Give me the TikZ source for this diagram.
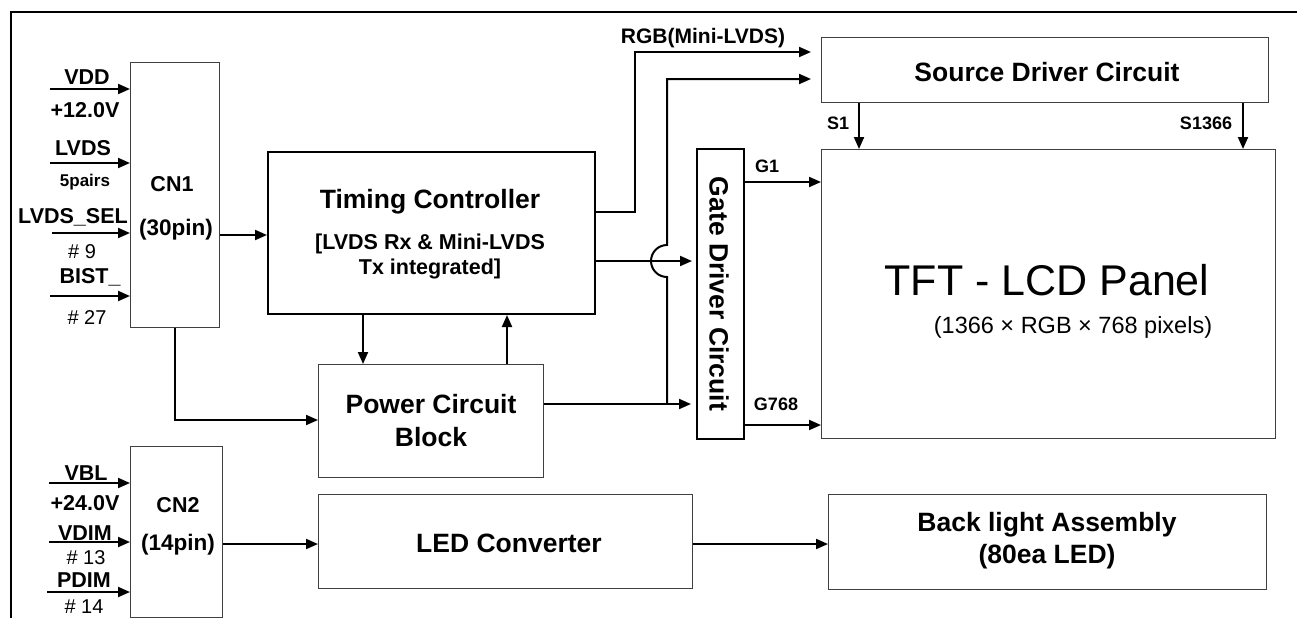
\documentclass[tikz,border=0pt]{standalone}
\usepackage{fontspec}
\setmainfont{Liberation Sans}
\usetikzlibrary{arrows.meta}
\begin{document}
\begin{tikzpicture}[x=1pt,y=-1pt,
  thinbox/.style={draw=black!75, line width=1.2pt, fill=white, inner sep=0pt, anchor=north west},
  thickbox/.style={draw=black, line width=2pt, fill=white, inner sep=0pt, anchor=north west},
  conn/.style={line width=2pt},
  arr/.style={conn, -{Triangle[length=12pt,width=10pt]}},
  lab/.style={inner sep=0pt, font=\bfseries\fontsize{21.5}{24}\selectfont},
  pin/.style={inner sep=0pt, font=\fontsize{20}{22}\selectfont},
  sig/.style={inner sep=0pt, font=\bfseries\fontsize{18}{20}\selectfont},
  big/.style={inner sep=0pt, font=\bfseries\fontsize{26.5}{33}\selectfont, align=center},
  mid/.style={inner sep=0pt, font=\bfseries\fontsize{21.5}{25}\selectfont, align=center}]
\useasboundingbox (0,0) rectangle (1297,618);
% frame
\coordinate (fTL) at (11,12); \coordinate (fTR) at (1297,12); \coordinate (fBL) at (11,618);
\draw[line width=2pt] (fTR) -- (fTL) -- (fBL);

% boxes
\node[thinbox, minimum width=89pt, minimum height=265pt] (cn1) at (130,62) {};
\node[thinbox, minimum width=92pt, minimum height=171pt] (cn2) at (130,446) {};
\node[thickbox, minimum width=327pt, minimum height=162pt] (tc) at (267,151) {};
\node[thinbox, minimum width=225pt, minimum height=113pt] (pwr) at (318,364) {};
\node[thinbox, minimum width=374pt, minimum height=94pt] (led) at (318,494) {};
\node[thinbox, minimum width=438pt, minimum height=95pt] (bl) at (828,494) {};
\node[thinbox, minimum width=447pt, minimum height=65pt] (src) at (821,37) {};
\node[thinbox, minimum width=454pt, minimum height=289pt] (tft) at (821,149) {};
\node[thickbox, minimum width=47pt, minimum height=290pt] (gate) at (696,148) {};

% input arrows CN1
\coordinate (iVDD) at (50,89);  \draw[arr] (iVDD) -- (iVDD -| cn1.west);
\coordinate (iLVDS) at (50,163); \draw[arr] (iLVDS) -- (iLVDS -| cn1.west);
\coordinate (iSEL) at (52,233); \draw[arr] (iSEL) -- (iSEL -| cn1.west);
\coordinate (iBIST) at (50,296); \draw[arr] (iBIST) -- (iBIST -| cn1.west);
% input arrows CN2
\coordinate (iVBL) at (49,483); \draw[arr] (iVBL) -- (iVBL -| cn2.west);
\coordinate (iVDIM) at (49,542); \draw[arr] (iVDIM) -- (iVDIM -| cn2.west);
\coordinate (iPDIM) at (47,592); \draw[arr] (iPDIM) -- (iPDIM -| cn2.west);

% CN1 -> TC
\coordinate (y235) at (0,235);
\draw[arr] (cn1.east |- y235) -- (tc.west |- y235);
% CN1 -> Power
\coordinate (cpw) at (175,420);
\draw[arr] (cn1.south -| cpw) -- (cpw) -- (cpw -| pwr.west);
% TC <-> Power
\coordinate (xd) at (363,0); \draw[arr] (tc.south -| xd) -- (pwr.north -| xd);
\coordinate (xu) at (507,0); \draw[arr] (pwr.north -| xu) -- (tc.south -| xu);
% RGB
\coordinate (rgbA) at (635,212); \coordinate (rgbB) at (635,52);
\draw[arr, shorten >=10pt] (tc.east |- rgbA) -- (rgbA) -- (rgbB) -- (rgbB -| src.west);
% TC -> gate
\coordinate (y261) at (0,261);
\draw[arr, shorten >=4pt] (tc.east |- y261) -- (gate.west |- y261);
% Power -> gate
\coordinate (jn) at (667,404);
\draw[arr, shorten >=5pt] (pwr.east |- jn) -- (gate.west |- jn);
% Power -> source (with jump)
\coordinate (jlow) at (667,277); \coordinate (jtop) at (667,79);
\draw[arr, shorten >=10pt] (jn) -- (jlow) arc[start angle=270, end angle=90, radius=16pt] -- (jtop) -- (jtop -| src.west);
% gate -> TFT
\coordinate (yG1) at (0,182); \draw[arr] (gate.east |- yG1) -- (tft.west |- yG1);
\coordinate (yG2) at (0,425); \draw[arr] (gate.east |- yG2) -- (tft.west |- yG2);
% source -> TFT
\coordinate (xS1) at (859,0); \draw[arr] (src.south -| xS1) -- (tft.north -| xS1);
\coordinate (xS2) at (1243,0); \draw[arr] (src.south -| xS2) -- (tft.north -| xS2);
% CN2 -> LED -> BL
\coordinate (y544) at (0,544);
\draw[arr] (cn2.east |- y544) -- (led.west |- y544);
\draw[arr] (led.east |- y544) -- (bl.west |- y544);

% labels CN1 inputs
\node[lab] (tVDD) at (87,77) {VDD};
\node[lab] (tV12) at (85,110) {+12.0V};
\node[lab] (tLVDS) at (83,148) {LVDS};
\node[inner sep=0pt, font=\bfseries\fontsize{17}{19}\selectfont] (t5p) at (85,182) {5pairs};
\node[lab] (tSEL) at (73,217) {LVDS\_SEL};
\node[pin] (t9) at (82,252) {\# 9};
\node[lab] (tBIST) at (90,277) {BIST\_};
\node[pin] (t27) at (87,318) {\# 27};
% labels CN2 inputs
\node[lab] (tVBL) at (86,473) {VBL};
\node[lab] (tV24) at (85,503) {+24.0V};
\node[lab] (tVDIM) at (85,533) {VDIM};
\node[pin] (t13) at (86,558) {\# 13};
\node[lab] (tPDIM) at (84,580) {PDIM};
\node[pin] (t14) at (84,607) {\# 14};
% connector texts
\node[mid] (tCN1) at (172,184) {CN1};
\node[inner sep=0pt, font=\bfseries\fontsize{22.5}{25}\selectfont] (t30) at (176,230) {(30pin)};
\node[mid] (tCN2) at (178,505) {CN2};
\node[inner sep=0pt, font=\bfseries\fontsize{22.5}{25}\selectfont] (t14p) at (178,545) {(14pin)};
% block texts
\node[big] (tTC) at (430,202) {Timing Controller};
\node[mid] (tTC2) at (430,256) {[LVDS Rx \& Mini-LVDS\\Tx integrated]};
\node[big] (tPWR) at (431,421) {Power Circuit\\Block};
\node[big] (tLED) at (509,543) {LED Converter};
\node[big, font=\bfseries\fontsize{26.5}{32}\selectfont] (tBL) at (1047,541) {Back light Assembly\\(80ea LED)};
\node[big] (tSRC) at (1047,72) {Source Driver Circuit};
\node[big, rotate=-90] (tGATE) at (719,294) {Gate Driver Circuit};
\node[inner sep=0pt, font=\fontsize{43}{48}\selectfont, anchor=base] (tTFT) at (1047,295) {TFT - LCD Panel};
\node[inner sep=0pt, font=\fontsize{23.5}{27}\selectfont, anchor=base] (tTFT2) at (1073,333) {(1366 × RGB × 768 pixels)};
% signal labels
\node[inner sep=0pt, font=\bfseries\fontsize{21}{24}\selectfont] (tRGB) at (703,38) {RGB(Mini-LVDS)};
\node[sig] (tS1) at (838,123) {S1};
\node[sig] (tS2) at (1206,123) {S1366};
\node[sig] (tG1) at (767,166) {G1};
\node[sig] (tG2) at (776,404) {G768};
\end{tikzpicture}
\end{document}
